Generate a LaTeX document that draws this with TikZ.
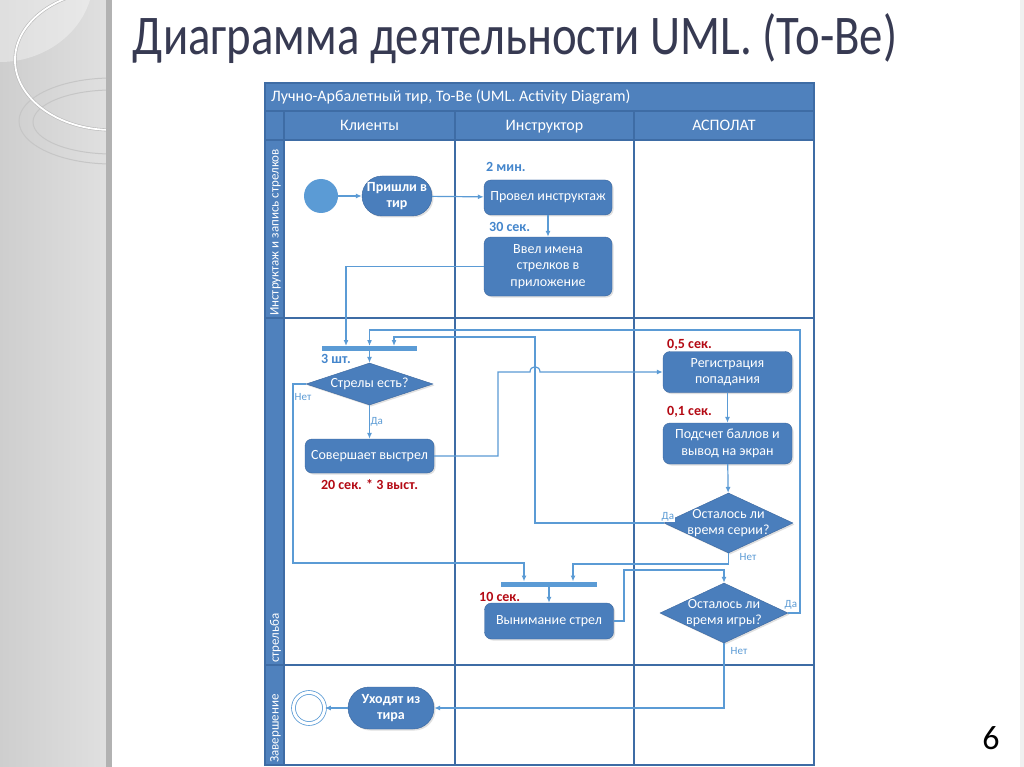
\documentclass[tikz,border=0pt]{standalone}
\usepackage{fontspec}
\setmainfont{Carlito}
\usepackage{tikz}
\usetikzlibrary{arrows.meta,calc,shapes.geometric,shadows}
\definecolor{hdrblue}{RGB}{79,129,189}
\definecolor{gridblue}{RGB}{62,108,165}
\definecolor{nodeblue}{RGB}{74,126,188}
\definecolor{nodeline}{RGB}{58,102,158}
\definecolor{flowblue}{RGB}{91,155,213}
\definecolor{timeblue}{RGB}{68,134,204}
\definecolor{timered}{RGB}{180,10,20}
\definecolor{titlecol}{RGB}{55,58,82}
\definecolor{stripA}{RGB}{206,206,206}
\definecolor{stripB}{RGB}{224,224,224}
\definecolor{stripedge}{RGB}{178,178,178}

\begin{document}
\begin{tikzpicture}[x=1pt,y=-1pt,>={Latex[length=6pt,width=5pt]},
  activity/.style={draw=nodeline,fill=nodeblue,rounded corners=7pt,text=white,align=center,inner sep=1pt,
    font=\fontsize{14}{16.5}\selectfont,drop shadow={shadow xshift=1.5pt,shadow yshift=-1.5pt,opacity=0.25}},
  terminal/.style={activity,font=\bfseries\fontsize{14}{16.5}\selectfont},
  decision/.style={diamond,draw=nodeline,fill=nodeblue,inner sep=0pt,
    drop shadow={shadow xshift=1.5pt,shadow yshift=-1.5pt,opacity=0.25}},
  dectext/.style={text=white,align=center,font=\fontsize{14}{16.5}\selectfont},
  syncbar/.style={fill=flowblue,inner sep=0pt,minimum height=5pt},
  flow/.style={draw=flowblue,line width=1.2pt,->},
  timelbl/.style={text=timeblue,inner sep=0pt,font=\bfseries\fontsize{14}{16}\selectfont},
  redlbl/.style={text=timered,inner sep=0pt,font=\bfseries\fontsize{14}{16}\selectfont},
  guard/.style={text=flowblue,inner sep=0.5pt,font=\fontsize{11}{13}\selectfont},
  lanehead/.style={text=white,anchor=base,inner sep=0pt,font=\fontsize{16}{18}\selectfont},
  rowhead/.style={text=white,rotate=90,anchor=west,inner sep=0pt,font=\fontsize{13}{15}\selectfont}]

\useasboundingbox (0,0) rectangle (1024,767);
\fill[white] (0,0) rectangle (1024,767);

\begin{scope}
\clip (0,0) rectangle (108,767);
\shade[left color=stripA,right color=stripB] (0,0) rectangle (108,767);
\fill[white,opacity=0.35] (0,0) -- (0,62) .. controls (40,62) and (78,38) .. (90,0) -- cycle;
\draw[gray!45,line width=1pt] (112,121) ellipse [x radius=93,y radius=43];
\draw[gray!45,line width=1pt] (112,122) ellipse [x radius=79,y radius=32];
\draw[gray!55,line width=3pt] (112,60) ellipse [x radius=97,y radius=70];
\draw[white,line width=1.8pt] (112,60) ellipse [x radius=97,y radius=70];
\end{scope}
\fill[stripedge] (106,0) rectangle (112,767);
\fill[gray!12] (1020,0) rectangle (1024,767);

\node[anchor=base west,text=titlecol,xscale=0.835,font=\fontsize{56}{60}\selectfont] (title) at (130,55) {Диаграмма деятельности UML. (To-Be)};
\node[anchor=base,font=\fontsize{34}{40}\selectfont] (pagenum) at (991,749) {6};

\fill[hdrblue] (265,83) rectangle (814,140);
\fill[hdrblue] (265,140) rectangle (284,765);
\draw[gridblue,line width=1.2pt] (265,83) rectangle (814,765);
\draw[gridblue,line width=1.2pt] (265,111) -- (814,111) (284,111) -- (284,765)
  (455,111) -- (455,765) (634,111) -- (634,765) (265,140) -- (814,140)
  (265,318) -- (814,318) (265,665) -- (814,665);

\node[lanehead,anchor=base west] (diagname) at (271,102) {Лучно-Арбалетный тир, To-Be (UML. Activity Diagram)};
\node[lanehead] (lane1) at (369.5,131) {Клиенты};
\node[lanehead] (lane2) at (544.5,131) {Инструктор};
\node[lanehead] (lane3) at (724,131) {АСПОЛАТ};
\node[rowhead] (row1) at (275.5,316) {Инструктаж и запись стрелков};
\node[rowhead] (row2) at (275.5,663) {стрельба};
\node[rowhead] (row3) at (275.5,763) {Завершение};

\node[circle,fill=flowblue,minimum size=34pt,inner sep=0pt] (start) at (321,196) {};
\node[terminal,rounded corners=20pt,minimum width=70pt,minimum height=40pt] (arrive) at (397,196) {Пришли в\\тир};
\node[activity,minimum width=128pt,minimum height=35pt] (brief) at (548,197.5) {Провел инструктаж};
\node[activity,minimum width=128pt,minimum height=59pt] (names) at (548,266.5) {Ввел имена\\стрелков в\\приложение};
\node[syncbar,minimum width=95pt] (bar1) at (369.5,348.5) {};
\node[decision,minimum width=127pt,minimum height=42pt] (haveq) at (369.5,384) {};
\node[dectext] at (haveq) {Стрелы есть?};
\node[activity,minimum width=129pt,minimum height=34pt] (shoot) at (369.5,456) {Совершает выстрел};
\node[activity,minimum width=129pt,minimum height=41pt] (reg) at (727.5,372) {Регистрация\\попадания};
\node[activity,minimum width=129pt,minimum height=41pt] (score) at (727.5,443.5) {Подсчет баллов и\\вывод на экран};
\node[decision,minimum width=129pt,minimum height=60pt] (serie) at (728.5,523) {};
\node[dectext] at (serie) {Осталось ли\\время серии?};
\node[syncbar,minimum width=96pt] (bar2) at (549,584) {};
\node[activity,minimum width=129pt,minimum height=36pt] (pull) at (549,621) {Вынимание стрел};
\node[decision,minimum width=128pt,minimum height=60pt] (game) at (724,613) {};
\node[dectext] at (game) {Осталось ли\\время игры?};
\node[terminal,rounded corners=21pt,minimum width=86pt,minimum height=42pt] (leave) at (391,708) {Уходят из\\тира};
\node[circle,draw=flowblue,line width=0.8pt,double,double distance=3pt,minimum size=31pt,inner sep=0pt] (finish) at (309,708) {};

\node[timelbl,anchor=west] at (486,167) {2 мин.};
\node[timelbl,anchor=west] at (489,227) {30 сек.};
\node[timelbl,anchor=west] at (321,359) {3 шт.};
\node[redlbl] at (369.5,485) {20 сек. * 3 выст.};
\node[redlbl,anchor=west] at (667,345) {0,5 сек.};
\node[redlbl,anchor=west] at (667,412) {0,1 сек.};
\node[redlbl,anchor=west] at (479,597) {10 сек.};

\coordinate (b1a) at (346,346);
\coordinate (b1b) at (369.5,346);
\coordinate (b1c) at (394,346);
\coordinate (b2a) at (524,581.5);
\coordinate (b2b) at (573,581.5);
\coordinate (nocol) at (293,563);
\coordinate (hop1) at (498,372);
\coordinate (hopl) at (530,372);
\coordinate (hopr) at (540,372);
\coordinate (backs) at (535,337);
\coordinate (backg) at (800,330);
\coordinate (nos) at (728.5,564);
\coordinate (pullr) at (624,570);

\draw[flow] (start) -- (arrive);
\draw[flow] (arrive) -- (brief);
\draw[flow] (brief) -- (names);
\draw[flow] (names.west) -| (b1a);
\draw[flow] (bar1) -- (haveq);
\draw[flow] (haveq) -- node[guard,right] {Да} (shoot);
\draw[flow] (haveq.west) -| (nocol) -| (b2a);
\node[guard,anchor=west] at (294,397) {Нет};
\draw[flow] (shoot.east) -| (hop1) -- (hopl) .. controls (530,365) and (540,365) .. (hopr) -- (reg.west);
\draw[flow] (reg) -- (score);
\draw[flow] (score) -- (serie);
\draw[flow] (serie.west) -| (backs) -| (b1c);
\node[guard,fill=white,anchor=south west] at (661,522) {Да};
\draw[flow] (serie.south) -- (nos) -| (b2b);
\node[guard,anchor=west] at (739,557) {Нет};
\draw[flow] (bar2) -- (pull);
\draw[flow] (pull.east) -| (pullr) -| (game.north);
\draw[flow] (game.east) -| (backg) -| (b1b);
\node[guard,fill=white,anchor=west] at (784,605) {Да};
\draw[flow] (game.south) |- (leave.east);
\node[guard,anchor=west] at (730,651) {Нет};
\draw[flow] (leave) -- (finish);
\end{tikzpicture}
\end{document}
